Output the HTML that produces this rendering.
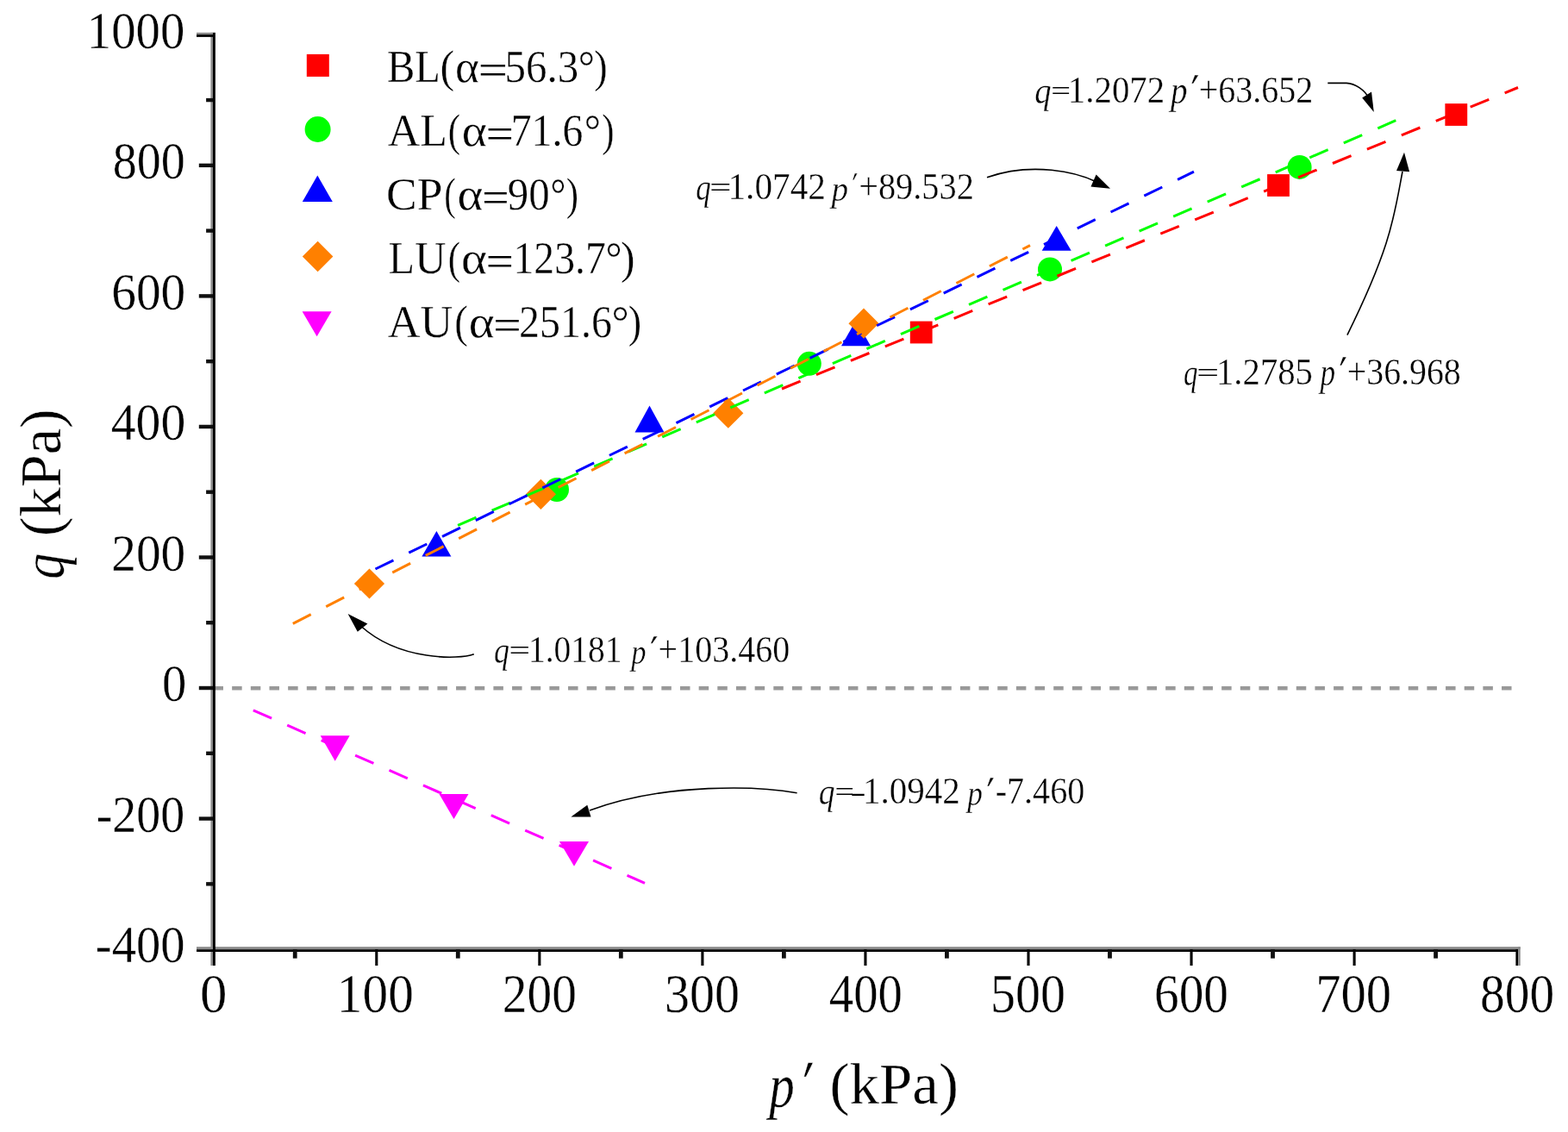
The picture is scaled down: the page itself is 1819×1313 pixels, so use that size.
<!DOCTYPE html>
<html><head><meta charset="utf-8"><title>q vs p'</title>
<style>html,body{margin:0;padding:0;background:#fff;width:1819px;height:1313px;overflow:hidden}svg{display:block}text{font-family:"Liberation Serif", "DejaVu Serif", serif;fill:#000;stroke:#fff;stroke-width:0.35px;vector-effect:non-scaling-stroke}</style>
</head><body>
<svg width="1819" height="1313" viewBox="0 0 1819 1313">
<rect width="1819" height="1313" fill="#fff"/>
<line x1="247.5" y1="798.35" x2="1756" y2="798.35" stroke="#999" stroke-width="4.5" stroke-dasharray="11.5 10.16"/>
<rect x="1676.40" y="120.10" width="25.8" height="25.8" fill="#ff0000"/>
<rect x="1470.10" y="202.10" width="25.8" height="25.8" fill="#ff0000"/>
<rect x="1055.80" y="372.60" width="25.8" height="25.8" fill="#ff0000"/>
<circle cx="1507.6" cy="193.9" r="14.0" fill="#00ff00"/>
<circle cx="1218" cy="312.4" r="14.0" fill="#00ff00"/>
<circle cx="938.8" cy="421.8" r="14.0" fill="#00ff00"/>
<circle cx="646" cy="568" r="14.0" fill="#00ff00"/>
<polygon points="1225.70,262.00 1242.70,290.80 1208.70,290.80" fill="#0000ff"/>
<polygon points="993.00,371.50 1010.00,401.20 976.00,401.20" fill="#0000ff"/>
<polygon points="753.50,470.60 770.50,501.50 736.50,501.50" fill="#0000ff"/>
<polygon points="506.40,615.90 523.40,645.60 489.40,645.60" fill="#0000ff"/>
<polygon points="1002.00,357.60 1019.60,375.20 1002.00,392.80 984.40,375.20" fill="#ff8000"/>
<polygon points="844.80,461.60 862.40,479.20 844.80,496.80 827.20,479.20" fill="#ff8000"/>
<polygon points="627.40,555.70 645.00,573.30 627.40,590.90 609.80,573.30" fill="#ff8000"/>
<polygon points="428.50,659.40 446.10,677.00 428.50,694.60 410.90,677.00" fill="#ff8000"/>
<polygon points="371.70,853.30 405.70,853.30 388.70,882.70" fill="#ff00ff"/>
<polygon points="509.50,921.10 543.50,921.10 526.50,950.00" fill="#ff00ff"/>
<polygon points="649.00,976.00 683.00,976.00 666.00,1004.70" fill="#ff00ff"/>
<rect x="355.80" y="62.90" width="26.0" height="26.0" fill="#ff0000"/>
<circle cx="368.6" cy="150" r="15.0" fill="#00ff00"/>
<polygon points="368.30,203.50 385.80,233.90 350.80,233.90" fill="#0000ff"/>
<polygon points="368.60,279.70 386.40,297.50 368.60,315.30 350.80,297.50" fill="#ff8000"/>
<polygon points="350.60,361.20 384.60,361.20 367.60,390.20" fill="#ff00ff"/>
<line x1="907" y1="451" x2="1761" y2="101.5" stroke="#ff0000" stroke-width="3.0" stroke-dasharray="23.3 19.85"/>
<line x1="531.1" y1="609.3" x2="1619.3" y2="139.7" stroke="#00ff00" stroke-width="3.0" stroke-dasharray="23.3 19.75"/>
<line x1="435.5" y1="660" x2="1385" y2="199.2" stroke="#0000ff" stroke-width="3.0" stroke-dasharray="23.3 19.8"/>
<line x1="339.8" y1="723.4" x2="1195" y2="284.6" stroke="#ff8000" stroke-width="3.0" stroke-dasharray="23.5 19.75"/>
<line x1="293.8" y1="823.8" x2="748" y2="1024.3" stroke="#ff00ff" stroke-width="3.0" stroke-dasharray="23.3 19.8"/>
<rect x="244.4" y="37.8" width="2.6" height="1082.2" fill="#8a8a8a"/>
<rect x="228" y="1098.2" width="1535.7" height="3.0" fill="#8a8a8a"/>
<rect x="228" y="1101.2" width="1533.2" height="2.8" fill="#000"/>
<rect x="239.1" y="1023.12" width="8.2" height="4.4" fill="#111"/>
<rect x="230.8" y="947.35" width="16.5" height="4.4" fill="#111"/>
<rect x="239.1" y="871.58" width="8.2" height="4.4" fill="#111"/>
<rect x="230.8" y="795.81" width="16.5" height="4.4" fill="#111"/>
<rect x="239.1" y="720.04" width="8.2" height="4.4" fill="#111"/>
<rect x="230.8" y="644.27" width="16.5" height="4.4" fill="#111"/>
<rect x="239.1" y="568.50" width="8.2" height="4.4" fill="#111"/>
<rect x="230.8" y="492.73" width="16.5" height="4.4" fill="#111"/>
<rect x="239.1" y="416.96" width="8.2" height="4.4" fill="#111"/>
<rect x="230.8" y="341.18" width="16.5" height="4.4" fill="#111"/>
<rect x="239.1" y="265.41" width="8.2" height="4.4" fill="#111"/>
<rect x="230.8" y="189.64" width="16.5" height="4.4" fill="#111"/>
<rect x="239.1" y="113.87" width="8.2" height="4.4" fill="#111"/>
<rect x="228" y="37.8" width="19" height="2.4" fill="#8a8a8a"/>
<rect x="228" y="40.1" width="19" height="2.8" fill="#000"/>
<rect x="339.83" y="1101" width="4.8" height="10.6" fill="#111"/>
<rect x="435.25" y="1101" width="3.1" height="19" fill="#000"/>
<rect x="528.88" y="1101" width="4.8" height="10.6" fill="#111"/>
<rect x="624.30" y="1101" width="3.1" height="19" fill="#000"/>
<rect x="717.93" y="1101" width="4.8" height="10.6" fill="#111"/>
<rect x="813.35" y="1101" width="3.1" height="19" fill="#000"/>
<rect x="906.98" y="1101" width="4.8" height="10.6" fill="#111"/>
<rect x="1002.40" y="1101" width="3.1" height="19" fill="#000"/>
<rect x="1096.02" y="1101" width="4.8" height="10.6" fill="#111"/>
<rect x="1191.45" y="1101" width="3.1" height="19" fill="#000"/>
<rect x="1285.08" y="1101" width="4.8" height="10.6" fill="#111"/>
<rect x="1380.50" y="1101" width="3.1" height="19" fill="#000"/>
<rect x="1474.12" y="1101" width="4.8" height="10.6" fill="#111"/>
<rect x="1569.55" y="1101" width="3.1" height="19" fill="#000"/>
<rect x="1663.17" y="1101" width="4.8" height="10.6" fill="#111"/>
<rect x="1758.4" y="1101" width="2.8" height="19" fill="#000"/>
<rect x="1761.2" y="1098.2" width="2.5" height="21.8" fill="#8a8a8a"/>
<rect x="247.0" y="37.8" width="2.85" height="1082.2" fill="#000"/>
<path d="M1540.3,96.4 L1562,96.4 C1572,97 1583,104 1588,114" fill="none" stroke="#000" stroke-width="1.6"/><polygon points="1591,106.5 1580.2,113.5 1593.8,130" fill="#000"/>
<path d="M1145,205.7 C1198.1,187.3 1249.2,200.0 1272,211" fill="none" stroke="#000" stroke-width="1.6"/><polygon points="1265.5,216.5 1271.6,202.4 1288,218.8" fill="#000"/>
<path d="M1562.9,388.6 C1614.6,283.9 1617.2,250.1 1627,199" fill="none" stroke="#000" stroke-width="1.6"/><polygon points="1620,198 1635.1,199.3 1629,176.8" fill="#000"/>
<path d="M549.8,758.7 C532.6,765.2 463.8,766.6 419,726.5" fill="none" stroke="#000" stroke-width="1.6"/><polygon points="426.4,723.4 414.8,732.7 403.6,712.1" fill="#000"/>
<path d="M924.6,919.7 C881.6,912.0 773.3,907.1 684,940" fill="none" stroke="#000" stroke-width="1.6"/><polygon points="662.4,947.4 685.5,947.4 681.3,933.8" fill="#000"/>
<text transform="translate(100.87,55.60) scale(0.9220,1)" font-size="61.5">1000</text>
<text transform="translate(130.75,207.14) scale(0.9106,1)" font-size="61.5">800</text>
<text transform="translate(129.21,358.68) scale(0.9332,1)" font-size="61.5">600</text>
<text transform="translate(128.70,510.23) scale(0.9388,1)" font-size="61.5">400</text>
<text transform="translate(129.21,661.77) scale(0.9332,1)" font-size="61.5">200</text>
<text transform="translate(187.93,813.31) scale(0.9217,1)" font-size="61.5">0</text>
<text transform="translate(111.65,964.85) scale(0.9101,1)" font-size="61.5">-200</text>
<text transform="translate(110.83,1116.39) scale(0.9202,1)" font-size="61.5">-400</text>
<text transform="translate(231.99,1173.70) scale(0.9977,1)" font-size="63.0">0</text>
<text transform="translate(390.87,1173.70) scale(0.9417,1)" font-size="63.0">100</text>
<text transform="translate(582.76,1173.70) scale(0.9110,1)" font-size="63.0">200</text>
<text transform="translate(770.88,1173.70) scale(0.9210,1)" font-size="63.0">300</text>
<text transform="translate(961.76,1173.70) scale(0.9012,1)" font-size="63.0">400</text>
<text transform="translate(1148.98,1173.70) scale(0.9210,1)" font-size="63.0">500</text>
<text transform="translate(1338.96,1173.70) scale(0.9110,1)" font-size="63.0">600</text>
<text transform="translate(1526.13,1173.70) scale(0.9312,1)" font-size="63.0">700</text>
<text transform="translate(1717.06,1173.70) scale(0.9110,1)" font-size="63.0">800</text>
<text transform="translate(448.94,94.90) scale(0.9155,1)" font-size="53.0">BL</text>
<text transform="translate(510.53,94.90) scale(0.9459,1)" font-size="53.0">(</text>
<text transform="translate(528.04,94.90) scale(1.0050,1)" font-size="53.0">α</text>
<text transform="translate(554.65,98.39) scale(1.1472,0.9376)" font-size="53.0" style="stroke:none">=</text>
<text transform="translate(585.51,94.90) scale(0.9232,1)" font-size="53.0">56.3</text>
<text transform="translate(670.85,94.90) scale(0.9057,1)" font-size="53.0">°</text>
<text transform="translate(689.25,94.90) scale(0.8737,1)" font-size="53.0">)</text>
<text transform="translate(449.70,168.90) scale(0.9811,1)" font-size="53.0">AL</text>
<text transform="translate(519.64,168.90) scale(0.8184,1)" font-size="53.0">(</text>
<text transform="translate(535.86,168.90) scale(1.0478,1)" font-size="53.0">α</text>
<text transform="translate(563.63,172.39) scale(1.0747,0.9376)" font-size="53.0" style="stroke:none">=</text>
<text transform="translate(592.71,168.90) scale(0.9028,1)" font-size="53.0">71.6</text>
<text transform="translate(677.85,168.90) scale(0.9057,1)" font-size="53.0">°</text>
<text transform="translate(698.16,168.90) scale(0.8098,1)" font-size="53.0">)</text>
<text transform="translate(448.03,242.90) scale(1.0089,1)" font-size="53.0">CP</text>
<text transform="translate(515.22,242.90) scale(0.7715,1)" font-size="53.0">(</text>
<text transform="translate(530.62,242.90) scale(1.0751,1)" font-size="53.0">α</text>
<text transform="translate(559.20,246.39) scale(1.0465,0.9376)" font-size="53.0" style="stroke:none">=</text>
<text transform="translate(588.87,242.90) scale(0.9218,1)" font-size="53.0">90</text>
<text transform="translate(638.50,242.90) scale(0.8453,1)" font-size="53.0">°</text>
<text transform="translate(656.86,242.90) scale(0.8098,1)" font-size="53.0">)</text>
<text transform="translate(450.62,316.90) scale(0.9461,1)" font-size="53.0">LU</text>
<text transform="translate(519.64,316.90) scale(0.8184,1)" font-size="53.0">(</text>
<text transform="translate(535.01,316.90) scale(1.0790,1)" font-size="53.0">α</text>
<text transform="translate(563.63,320.39) scale(1.0747,0.9376)" font-size="53.0" style="stroke:none">=</text>
<text transform="translate(595.47,316.90) scale(0.9004,1)" font-size="53.0">123.7</text>
<text transform="translate(702.56,316.90) scale(0.8996,1)" font-size="53.0">°</text>
<text transform="translate(719.95,316.90) scale(0.9376,1)" font-size="53.0">)</text>
<text transform="translate(449.70,390.90) scale(0.9889,1)" font-size="53.0">AU</text>
<text transform="translate(527.33,390.90) scale(0.8855,1)" font-size="53.0">(</text>
<text transform="translate(543.82,390.90) scale(1.0751,1)" font-size="53.0">α</text>
<text transform="translate(572.31,394.39) scale(1.0828,0.9376)" font-size="53.0" style="stroke:none">=</text>
<text transform="translate(602.10,390.90) scale(0.9044,1)" font-size="53.0">251.6</text>
<text transform="translate(709.43,390.90) scale(0.9540,1)" font-size="53.0">°</text>
<text transform="translate(728.85,390.90) scale(0.8737,1)" font-size="53.0">)</text>
<text transform="translate(1200.29,120.22) scale(0.8878,1.0070)" font-size="43.5" font-style="italic">q</text>
<text transform="translate(1219.20,116.27) scale(0.9318,0.7097)" font-size="43.5" style="stroke:none">=</text>
<text transform="translate(1238.81,119.00) scale(0.9397,1)" font-size="43.5">1.2072</text>
<text transform="translate(1357.95,120.05) scale(0.8996,1.0560)" font-size="43.5" font-style="italic">p</text>
<text transform="translate(1381.42,128.03) scale(1.0054,1.2874)" font-size="43.5" font-family="DejaVu Serif, serif" style="font-family:'DejaVu Serif',serif">′</text>
<text transform="translate(1390.63,119.00) scale(0.9195,1)" font-size="43.5">+63.652</text>
<text transform="translate(807.30,231.72) scale(0.8067,1.0070)" font-size="43.5" font-style="italic">q</text>
<text transform="translate(823.21,227.77) scale(1.0250,0.7097)" font-size="43.5" style="stroke:none">=</text>
<text transform="translate(844.48,230.50) scale(0.9484,1)" font-size="43.5">1.0742</text>
<text transform="translate(964.55,232.52) scale(0.8996,0.9645)" font-size="43.5" font-style="italic">p</text>
<text transform="translate(988.62,234.00) scale(0.6989,1.0299)" font-size="43.5" font-family="DejaVu Serif, serif" style="font-family:'DejaVu Serif',serif">′</text>
<text transform="translate(996.21,230.50) scale(0.9273,1)" font-size="43.5">+89.532</text>
<text transform="translate(1372.97,447.02) scale(0.7610,1.0070)" font-size="43.5" font-style="italic">q</text>
<text transform="translate(1388.35,443.07) scale(1.0544,0.7097)" font-size="43.5" style="stroke:none">=</text>
<text transform="translate(1411.02,445.80) scale(0.9359,1)" font-size="43.5">1.2785</text>
<text transform="translate(1531.61,447.35) scale(0.8113,1.0560)" font-size="43.5" font-style="italic">p</text>
<text transform="translate(1553.45,455.32) scale(0.9563,1.2874)" font-size="43.5" font-family="DejaVu Serif, serif" style="font-family:'DejaVu Serif',serif">′</text>
<text transform="translate(1562.83,445.80) scale(0.9157,1)" font-size="43.5">+36.968</text>
<text transform="translate(573.08,769.32) scale(0.8270,1.0070)" font-size="43.5" font-style="italic">q</text>
<text transform="translate(590.46,765.37) scale(1.0005,0.7097)" font-size="43.5" style="stroke:none">=</text>
<text transform="translate(612.91,768.10) scale(0.9082,1)" font-size="43.5">1.0181</text>
<text transform="translate(732.16,769.70) scale(0.7945,0.9776)" font-size="43.5" font-style="italic">p</text>
<text transform="translate(754.03,771.88) scale(0.9808,1.0544)" font-size="43.5" font-family="DejaVu Serif, serif" style="font-family:'DejaVu Serif',serif">′</text>
<text transform="translate(763.62,768.10) scale(0.9199,1)" font-size="43.5">+103.460</text>
<text transform="translate(949.63,933.32) scale(0.8625,1.0070)" font-size="43.5" font-style="italic">q</text>
<text transform="translate(968.43,929.37) scale(0.9171,0.7097)" font-size="43.5" style="stroke:none">=</text>
<text transform="translate(1000.89,932.10) scale(0.9432,1)" font-size="43.5">1.0942</text>
<text transform="translate(1122.21,933.64) scale(0.8113,0.9841)" font-size="43.5" font-style="italic">p</text>
<text transform="translate(1144.55,942.44) scale(0.9563,1.2628)" font-size="43.5" font-family="DejaVu Serif, serif" style="font-family:'DejaVu Serif',serif">′</text>
<text transform="translate(1154.65,932.10) scale(0.9230,1)" font-size="43.5">-7.460</text>
<text transform="translate(986.27,929.30) scale(1.2722,0.6621)" font-size="43.5" style="stroke:none">-</text>
<text transform="translate(892.19,1283.50) scale(0.8622,1.0547)" font-size="68.5" font-style="italic">p</text>
<text transform="translate(931.40,1297.79) scale(0.8409,1.3158)" font-size="68.5" font-family="DejaVu Serif, serif" style="font-family:'DejaVu Serif',serif">′</text>
<text transform="translate(962.55,1280.00) scale(1.0066,1)" font-size="68.5">(kPa)</text>
<g transform="translate(70.4,670) rotate(-90)">
<text transform="translate(-1.86,3.22) scale(0.8699,1.0132)" font-size="68.5" font-style="italic">q</text>
<text transform="translate(47.66,0.00) scale(0.9989,1)" font-size="68.5">(kPa)</text>
</g>
</svg>
</body></html>
